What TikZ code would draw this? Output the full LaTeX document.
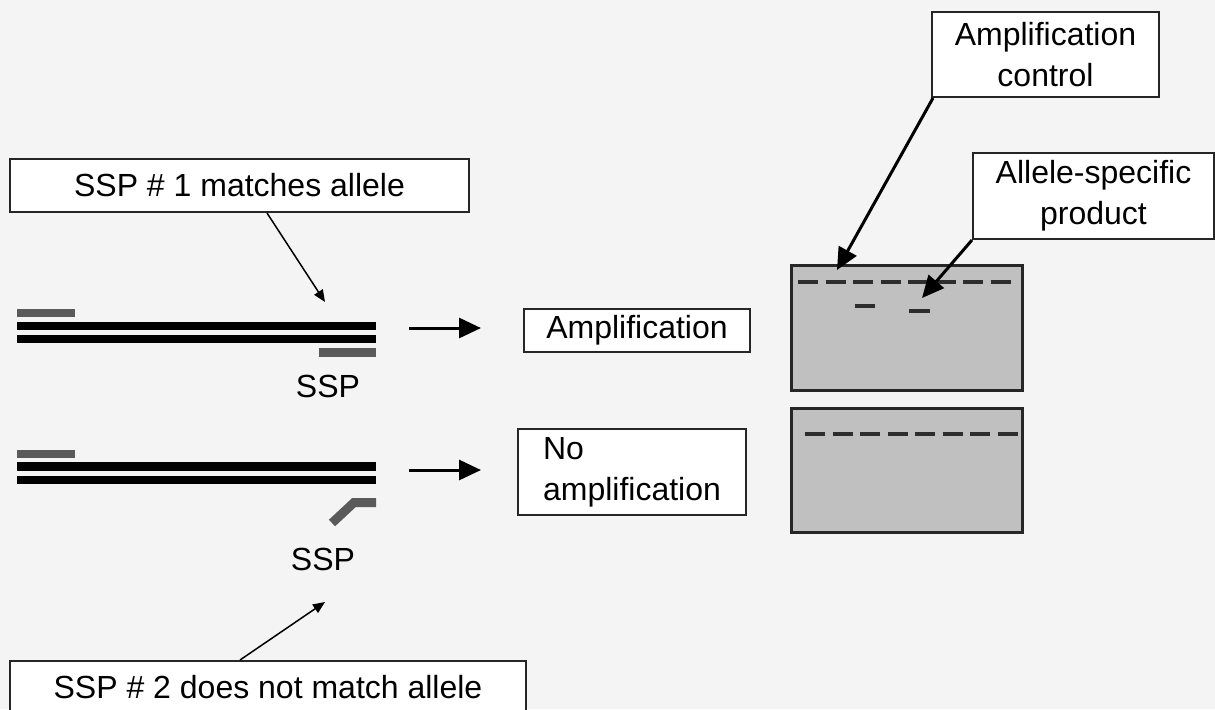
\documentclass[tikz,border=0pt]{standalone}
\usepackage{fontspec}
\setmainfont{Liberation Sans}
\usetikzlibrary{arrows.meta}
\definecolor{bggray}{RGB}{244,244,244}
\definecolor{primergray}{RGB}{90,90,90}
\definecolor{gelgray}{RGB}{192,192,192}
\definecolor{bandgray}{RGB}{45,45,45}

\begin{document}
\begin{tikzpicture}[x=.5pt,y=-.5pt,
  tbox/.style={draw=black!85, line width=1pt, fill=white, inner sep=0pt, font=\fontsize{16}{20.5}\selectfont},
  txt/.style={inner sep=0pt, font=\fontsize{16}{20}\selectfont},
  thinarrow/.style={-{Triangle[length=6pt,width=5pt]}, line width=.75pt},
  thickarrow/.style={-{Triangle[length=11pt,width=10pt]}, line width=1.5pt},
  strand/.style={fill=black},
  primer/.style={fill=primergray},
  gel/.style={draw=black!85, fill=gelgray, line width=1.5pt},
  band/.style={draw=bandgray, line width=2pt, dash pattern=on 10pt off 3.75pt}]
\useasboundingbox (0,0) rectangle (1215,709);
\fill[bggray] (0,0) rectangle (1215,709);

% top left label
\node[tbox, minimum width=229.5pt, minimum height=26.5pt] (match) at (239.5,185.5) {SSP \# 1 matches allele};
\coordinate (matchtip) at (325,302);
\draw[thinarrow] ([xshift=13.75pt]match.south) -- (matchtip);

% allele 1: two strands with primers
\fill[primer] (17,309) rectangle (75,317);
\fill[strand] (17,322) rectangle (376,330);
\fill[strand] (17,335) rectangle (376,343);
\fill[primer] (319,348) rectangle (376,357);
\node[txt] (ssp1) at (328,386) {SSP};

% allele 2: primer does not bind
\fill[primer] (17,450) rectangle (75,458);
\fill[strand] (17,462) rectangle (376,471);
\fill[strand] (17,476) rectangle (376,484);
\draw[primergray, line width=4.5pt] (332,523) -- (354,502.5) -- (376,502.5);
\node[txt] (ssp2) at (323,559) {SSP};

% bottom left label
\node[tbox, minimum width=258pt, minimum height=26.5pt] (nomatch) at (268,687.5) {SSP \# 2 does not match allele};
\coordinate (nomatchtip) at (325,602);
\draw[thinarrow] ([xshift=-14pt]nomatch.north) -- (nomatchtip);

% results
\node[tbox, minimum width=113pt, minimum height=21.5pt] (amp) at (637,330.5) {Amplification};
\node[tbox, minimum width=114pt, minimum height=43pt, align=left] (noamp) at (632,472) {No\\amplification};
\coordinate (amparrow) at (409,328);
\coordinate (noamparrow) at (409,470);
\draw[thickarrow] (amparrow) -- ([xshift=-21pt]amp.west |- amparrow);
\draw[thickarrow] (noamparrow) -- ([xshift=-18pt]noamp.west |- noamparrow);

% gels
\draw[gel] (791,265) rectangle (1022,390);
\draw[gel] (791,408) rectangle (1022,532);
\draw[band] (798,282) -- (1011,282);
\draw[bandgray, line width=2pt] (855,306) -- (875,306);
\draw[bandgray, line width=2pt] (909,311) -- (930,311);
\draw[band] (805,434) -- (1018,434);

% gel labels
\node[tbox, minimum width=113.5pt, minimum height=42.5pt, align=center] (ctrl) at (1045.5,54.5) {Amplification\\control};
\node[tbox, minimum width=120.5pt, minimum height=43pt, align=center] (prod) at (1093.5,196) {Allele-specific\\product};
\coordinate (ctrltip) at (837,270);
\coordinate (prodtip) at (922,298);
\draw[thickarrow] ([xshift=1pt]ctrl.south west) -- (ctrltip);
\draw[thickarrow] (prod.south west) -- (prodtip);
\end{tikzpicture}
\end{document}
